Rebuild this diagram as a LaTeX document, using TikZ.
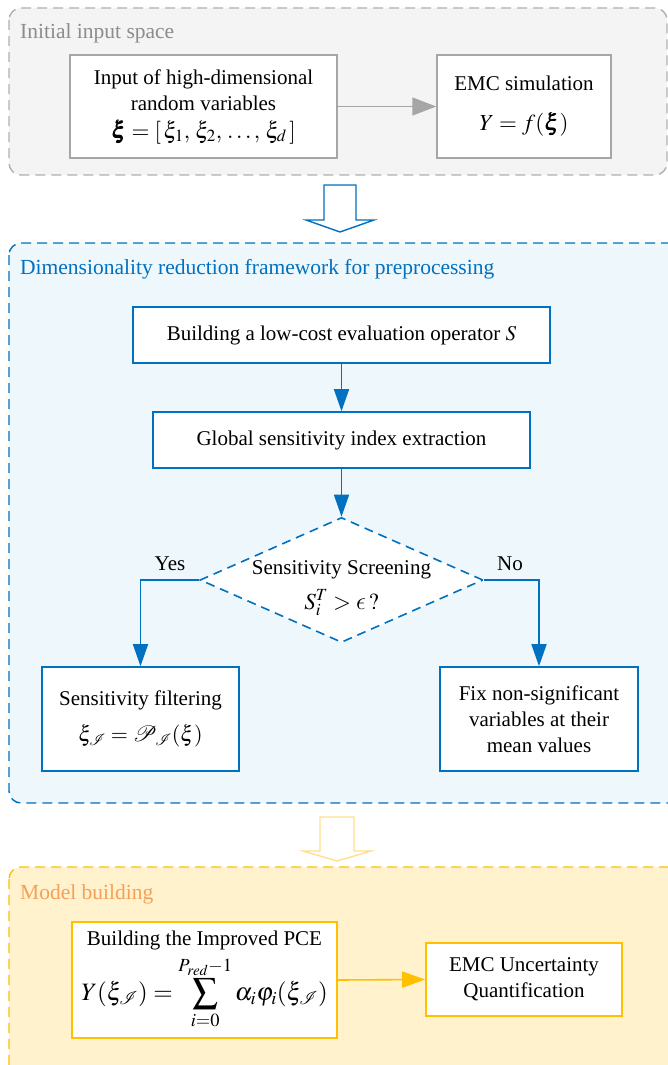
\documentclass[tikz,border=0pt]{standalone}
\usepackage{amsmath}
\usepackage{mathptmx}
\usepackage{bm}
\usepackage{fontspec}
\setmainfont{Liberation Serif}
\usetikzlibrary{shapes.geometric,arrows.meta}
\definecolor{cgray}{HTML}{B0B0B0}
\definecolor{cgrayfill}{HTML}{F4F4F4}
\definecolor{cgraytxt}{HTML}{8C8C8C}
\definecolor{carrgray}{HTML}{A6A6A6}
\definecolor{cblue}{HTML}{0070C0}
\definecolor{cbluefill}{HTML}{EEF7FB}
\definecolor{cyel}{HTML}{FFC000}
\definecolor{cyelfill}{HTML}{FFF2CC}
\definecolor{cyelarr}{HTML}{FFE08A}
\definecolor{corange}{HTML}{F5A05A}
\newcommand{\lunateeps}{\text{\usefont{OML}{cmm}{m}{it}\char15}}
\tikzset{
  every node/.style={font=\fontsize{21}{26}\selectfont, inner sep=0pt, align=center},
  container/.style={line width=1.4pt, dash pattern=on 10pt off 6pt, rounded corners=12pt},
  gbox/.style={draw=carrgray, fill=white, line width=1.4pt, rectangle},
  bbox/.style={draw=cblue, fill=white, line width=1.6pt, rectangle},
  ybox/.style={draw=cyel, fill=white, line width=1.6pt, rectangle},
  title/.style={anchor=base west, font=\fontsize{21.5}{26}\selectfont},
  barrow/.style={draw=cblue, line width=1.6pt, -{Triangle[length=22pt,width=15pt]}},
}
\begin{document}
\begin{tikzpicture}[x=1pt,y=-1pt]
\useasboundingbox (0,0) rectangle (668,1065);
\begin{scope}
\clip (0,0) rectangle (668,1065);
% containers
\draw[container, draw=cgray, fill=cgrayfill] (9,8) rectangle (667,175);
\draw[container, draw=cblue, fill=cbluefill] (9,243) rectangle (690,803);
\draw[container, draw=cyel, fill=cyelfill] (9,867) rectangle (690,1090);
\end{scope}
% titles
\node[title, text=cgraytxt] (t1) at (20,38) {Initial input space};
\node[title, text=cblue] (t2) at (20,274) {Dimensionality reduction framework for preprocessing};
\node[title, text=corange] (t3) at (20,899) {Model building};
% hollow arrows
\draw[cblue, line width=1.4pt, fill=white, line join=miter] (324,185) -- (356,185) -- (356,220) -- (374,220) -- (340,232) -- (306,220) -- (324,220) -- cycle;
\draw[cyelarr, line width=1.4pt, fill=white, line join=miter] (320,817) -- (354,817) -- (354,851) -- (371,851) -- (337,861) -- (303,851) -- (320,851) -- cycle;
% top boxes
\node[gbox, minimum width=267pt, minimum height=103pt] (inp) at (203.5,106.5)
  {Input of high-dimensional\\ random variables\\[2pt] {\fontsize{23}{26}\selectfont$\bm{\xi}=[\,\xi_1,\,\xi_2,\,\ldots,\,\xi_d\,]$}};
\node[gbox, minimum width=174pt, minimum height=103pt] (emc) at (524,106.5)
  {EMC simulation\\[14pt] {\fontsize{23}{26}\selectfont$Y=f(\bm{\xi})$}};
\draw[draw=carrgray, line width=1.4pt, -{Triangle[length=24pt,width=18pt]}] (inp.east) -- (emc.west);
% blue flow
\node[bbox, minimum width=417pt, minimum height=56pt] (sop) at (341.5,335)
  {Building a low-cost evaluation operator $S$};
\node[bbox, minimum width=377pt, minimum height=56pt] (gsi) at (341.5,440)
  {Global sensitivity index extraction};
\node[diamond, draw=cblue, fill=white, line width=1.6pt, dash pattern=on 9pt off 6pt, minimum width=283pt, minimum height=125pt] (dia) at (341.5,580) {};
\node (dlab) at (341.5,588) {Sensitivity Screening\\[9pt] {\fontsize{23}{26}\selectfont$S_i^T>\lunateeps\,?$}};
\node[bbox, minimum width=197pt, minimum height=104pt] (filt) at (140.5,719)
  {Sensitivity filtering\\[10pt] {\fontsize{22}{26}\selectfont$\xi_{\mathcal{I}}=\mathcal{P}_{\mathcal{I}}(\xi)$}};
\node[bbox, minimum width=198pt, minimum height=104pt] (fix) at (539,719)
  {Fix non-significant\\ variables at their\\ mean values};
\draw[barrow] (sop) -- (gsi);
\draw[barrow] (gsi) -- (dia.north);
\draw[barrow] (dia.west) -| (filt.north);
\draw[barrow] (dia.east) -| (fix.north);
\node[anchor=base] (yes) at (170,570) {Yes};
\node[anchor=base] (no) at (510,570) {No};
% yellow
\node[ybox, minimum width=265pt, minimum height=116pt] (pce) at (204.5,980)
  {Building the Improved PCE\\[6pt] {\fontsize{25}{28}\selectfont$\displaystyle Y(\xi_{\mathcal{I}})=\sum_{i=0}^{P_{red}-1}\alpha_i\varphi_i(\xi_{\mathcal{I}})$}};
\node[ybox, minimum width=196pt, minimum height=73pt] (uq) at (524,979.5)
  {EMC Uncertainty\\ Quantification};
\draw[draw=cyel, line width=1.6pt, -{Triangle[length=23pt,width=16pt]}] (pce.east) -- (uq.west);
\end{tikzpicture}
\end{document}
